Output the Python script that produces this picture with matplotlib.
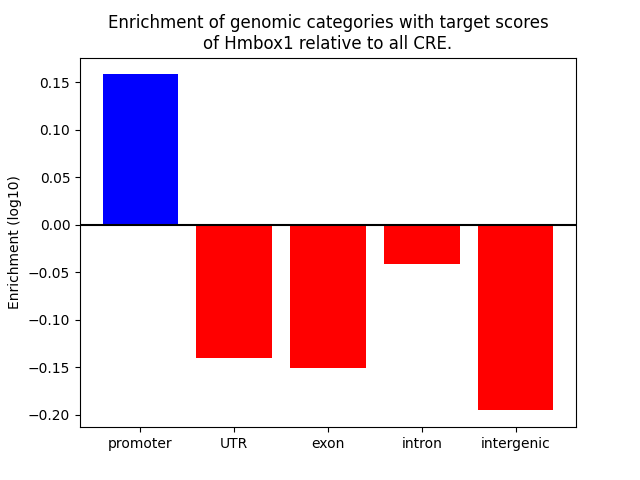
import matplotlib
matplotlib.use("Agg")
import matplotlib.pyplot as plt

categories = ["promoter", "UTR", "exon", "intron", "intergenic"]
enrichment = [0.158, -0.1405, -0.151, -0.0412, -0.1955]

colors = ["blue" if v > 0 else "red" for v in enrichment]

fig, ax = plt.subplots(figsize=(6.4, 4.8), dpi=100)
ax.bar(categories, enrichment, color=colors)
ax.axhline(0, color="black")
ax.set_ylabel("Enrichment (log10)")
ax.set_title("Enrichment of genomic categories with target scores\nof Hmbox1 relative to all CRE.")

fig.savefig("out.png")
